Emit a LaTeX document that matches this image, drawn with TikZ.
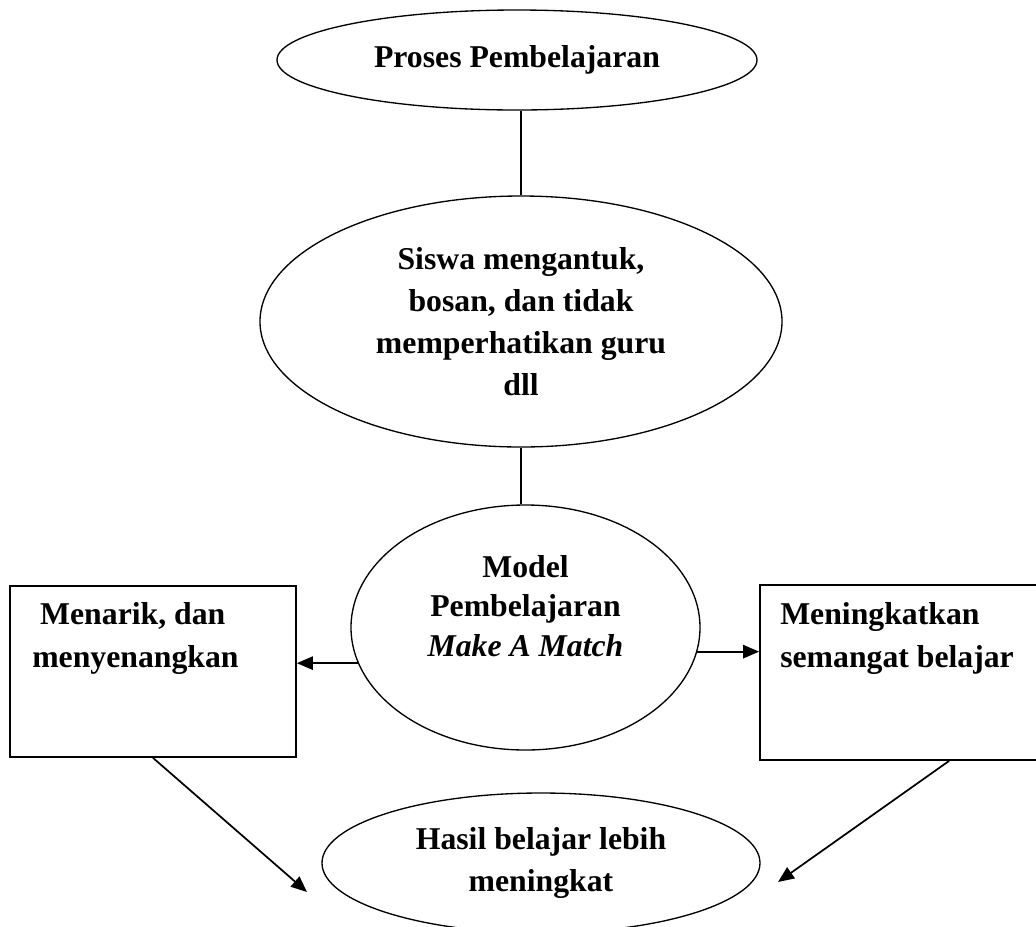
\documentclass[tikz,border=0pt]{standalone}
\usepackage{fontspec}
\setmainfont{Liberation Serif}
\usepackage{tikz}
\usetikzlibrary{shapes.geometric,arrows.meta,calc,positioning}
\tikzset{
elips/.style={ellipse, draw, line width=1pt, inner sep=0pt}, % bentuk elips
kotak/.style={rectangle, draw, line width=1.3pt, inner sep=0pt}, % bentuk kotak
teks/.style={align=center, inner sep=0pt, font=\bfseries\fontsize{23.8}{31.5}\selectfont},
garis/.style={line width=1.1pt},
panah/.style={-{Triangle[length=12pt,width=10pt]}, line width=1.3pt},
}

\begin{document}
\begin{tikzpicture}[x=0.75pt,y=0.75pt,yscale=-1,xscale=1]
\useasboundingbox (0,0) rectangle (1036,926);
\clip (0,0) rectangle (1036,926);
%Ellipses
\node[elips, teks, minimum width=360pt, minimum height=75pt] (proses) at (517,60) {Proses Pembelajaran};
\node[elips, teks, minimum width=391.5pt, minimum height=188.25pt] (masalah) at (521,321.5) {Siswa mengantuk,\\ bosan, dan tidak\\ memperhatikan guru\\ dll};
\node[elips, minimum width=261.75pt, minimum height=183.75pt] (model) at (525.5,627.5) {};
\node[teks, font=\bfseries\fontsize{23.8}{29.5}\selectfont] (modelteks) at (525.5,606) {Model\\ Pembelajaran\\ \textit{Make A Match}};
\node[elips, teks, font=\bfseries\fontsize{23.8}{32}\selectfont, minimum width=328.5pt, minimum height=105pt] (hasil) at (541,863) {Hasil belajar lebih\\ meningkat};
%Boxes
\node[kotak, minimum width=214.5pt, minimum height=128.25pt] (menarik) at (153,671.5) {};
\node[teks, align=left, anchor=west, font=\bfseries\fontsize{23.8}{32}\selectfont] (menarikteks) at (32,638.5) {\hspace*{.25em}Menarik, dan\\ menyenangkan};
\node[kotak, minimum width=213pt, minimum height=131.25pt] (semangat) at (902,672.5) {};
\node[teks, align=left, anchor=west, font=\bfseries\fontsize{23.8}{32}\selectfont] (semangatteks) at (780,638.5) {Meningkatkan\\ semangat belajar};
%Lines
\draw[garis] (masalah.north |- proses.south) -- (masalah.north);
\draw[garis] (masalah.south) -- (masalah.south |- model.north);
%Arrows
\draw[panah] (model.192) -- (model.192 -| menarik.east);
\draw[panah] (model.352) -- (model.352 -| semangat.west);
\coordinate (ujungkiri) at (307,892);
\coordinate (ujungkanan) at (778,882);
\draw[panah] (menarik.south) -- (ujungkiri);
\draw[panah] ($(semangat.south)!0.33!(semangat.south east)$) -- (ujungkanan);
\end{tikzpicture}
\end{document}
